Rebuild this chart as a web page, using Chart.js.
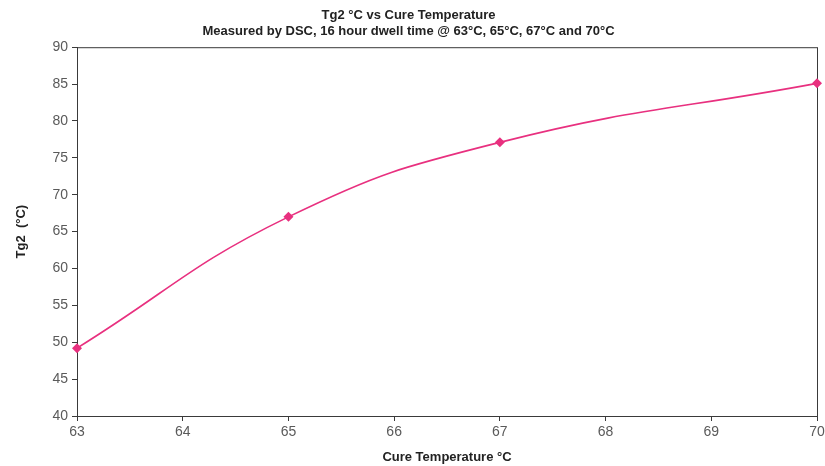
<!DOCTYPE html>
<html>
<head>
<meta charset="utf-8">
<script src="https://cdn.jsdelivr.net/npm/chart.js@4/dist/chart.umd.min.js"></script>
<style>
  html, body { margin: 0; padding: 0; background: #fff; }
  #wrap { width: 825px; height: 466px; }
</style>
</head>
<body>
<div id="wrap"><canvas id="chart"></canvas></div>
<script>
// Tg2 measured by DSC at each cure temperature
const cureTemps = [63, 65, 67, 70];
const tg2Values = [49.2, 67.0, 77.1, 85.1];

const titleLines = ['Tg2 °C vs Cure Temperature', 'Measured by DSC, 16 hour dwell time @ 63°C, 65°C, 67°C and 70°C'];
const xTitle = 'Cure Temperature °C';
const yTitle = 'Tg2  (°C)';

const LINE_COLOR = '#e8307f';
const AXIS_COLOR = '#3a3a3a';
const TICK_TEXT = '#5a5a5a';
const FONT = "'Liberation Sans', Arial, sans-serif";

// draws the thin box round the plot area (top and right edges)
const plotBox = {
    id: 'plotBox',
    beforeDatasetsDraw(chart) {
        const { ctx, chartArea: a } = chart;
        ctx.save();
        ctx.strokeStyle = AXIS_COLOR;
        ctx.lineWidth = 1;
        ctx.strokeRect(a.left + 0.5, a.top + 0.5, a.right - a.left, a.bottom - a.top);
        ctx.restore();
    }
};

const points = cureTemps.map((t, i) => ({ x: t, y: tg2Values[i] }));

new Chart(document.getElementById('chart'), {
    type: 'line',
    data: {
        datasets: [{
            data: points,
            borderColor: LINE_COLOR,
            backgroundColor: LINE_COLOR,
            borderWidth: 1.6,
            tension: 0.45,
            pointStyle: 'rectRot',
            pointRadius: 5,
            pointBorderWidth: 0,
            fill: false,
            clip: false
        }]
    },
    options: {
        responsive: true,
        maintainAspectRatio: false,
        animation: false,
        layout: { padding: { left: 0, right: 8, top: 0, bottom: 0 } },
        plugins: {
            legend: { display: false },
            tooltip: { enabled: false },
            title: {
                display: true,
                text: titleLines,
                color: '#222',
                font: { family: FONT, size: 13, weight: 'bold', lineHeight: 1.2 },
                padding: { top: 8, bottom: 8 }
            }
        },
        scales: {
            x: {
                type: 'linear',
                min: 63,
                max: 70,
                afterFit(scale) {
                    scale.height = 50;
                    scale.paddingRight = 0;
                },
                ticks: {
                    stepSize: 1,
                    color: TICK_TEXT,
                    padding: 3,
                    font: { family: FONT, size: 14 }
                },
                grid: {
                    drawOnChartArea: false,
                    drawTicks: true,
                    tickLength: 5,
                    color: AXIS_COLOR
                },
                border: { color: AXIS_COLOR, width: 1 },
                title: {
                    display: true,
                    text: xTitle,
                    color: '#222',
                    font: { family: FONT, size: 13, weight: 'bold' },
                    padding: { top: 0, bottom: 1 }
                }
            },
            y: {
                min: 40,
                max: 90,
                afterFit(scale) { scale.width = 77; },
                ticks: {
                    stepSize: 5,
                    color: TICK_TEXT,
                    padding: 4,
                    font: { family: FONT, size: 14 }
                },
                grid: {
                    drawOnChartArea: false,
                    drawTicks: true,
                    tickLength: 5,
                    color: AXIS_COLOR
                },
                border: { color: AXIS_COLOR, width: 1 },
                title: {
                    display: true,
                    text: yTitle,
                    color: '#222',
                    font: { family: FONT, size: 13, weight: 'bold' },
                    padding: { top: 14, bottom: 0 }
                }
            }
        }
    },
    plugins: [plotBox]
});
</script>
</body>
</html>
